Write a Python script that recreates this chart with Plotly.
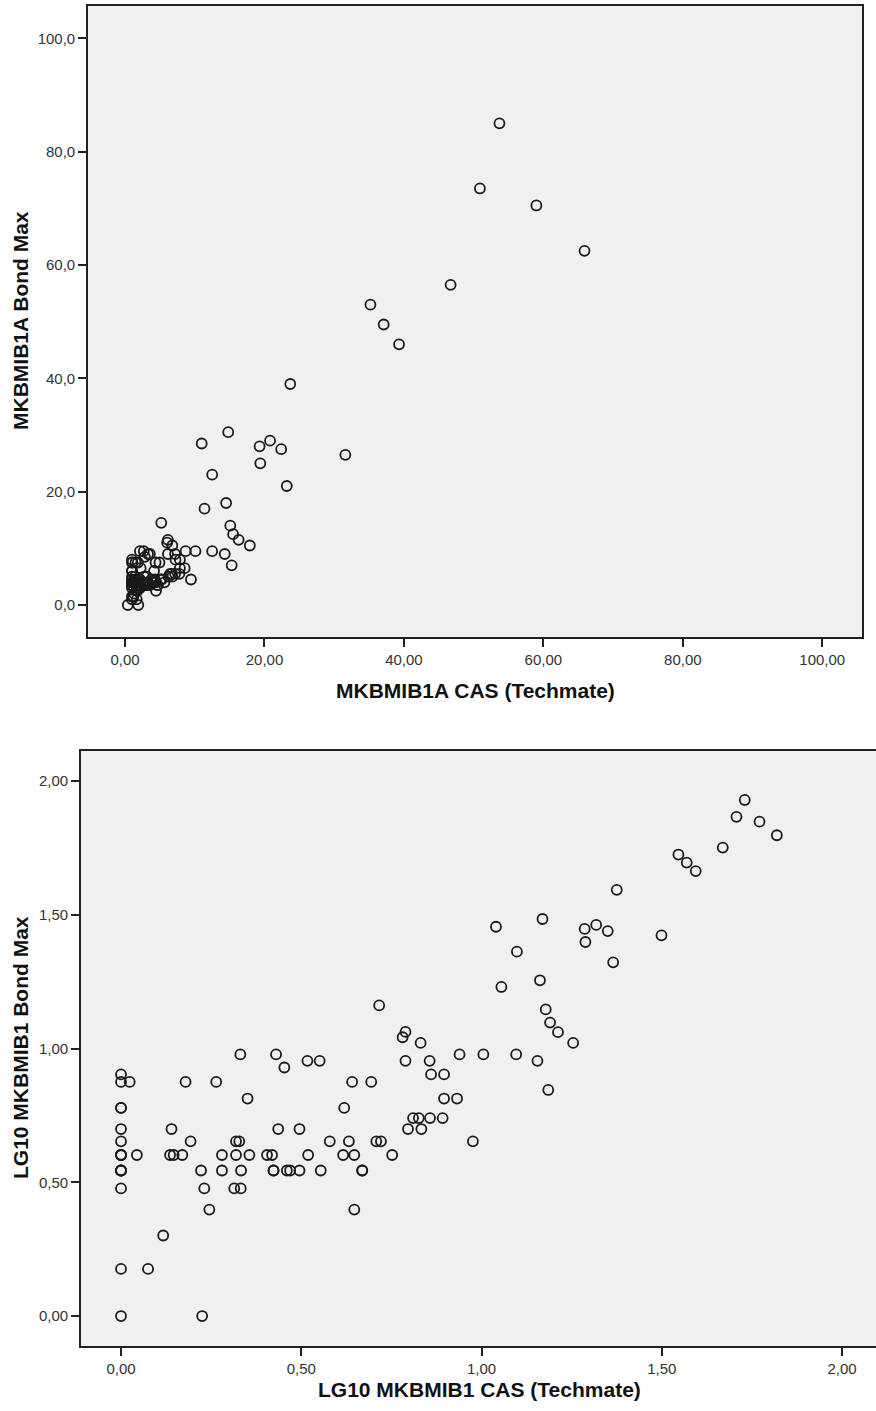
import plotly.graph_objects as go

# ---- Top chart data: MKBMIB1A CAS (Techmate) vs MKBMIB1A Bond Max ----
cas_raw = [1.0, 1.0, 1.06, 1.0, 1.0, 1.0, 1.0, 1.0, 1.0, 1.0, 1.1, 1.0, 1.0, 1.0, 1.0, 1.0, 1.0,
           1.19, 1.31, 1.68, 1.38, 1.37, 1.39, 1.48, 1.51, 1.56, 1.67, 1.70, 1.76, 1.84, 1.91, 1.91,
           2.06, 2.15, 2.08, 2.13, 2.08, 2.15, 2.14, 2.24, 2.27, 2.54, 2.62, 2.65, 2.65, 2.69, 2.73,
           2.84, 2.88, 2.94, 3.13, 3.13, 3.29, 3.30, 3.56, 3.58, 3.79, 4.13, 4.16, 4.29, 4.38, 4.44,
           4.44, 4.67, 4.67, 4.94, 5.11, 5.26, 5.20, 5.65, 6.04, 6.15, 6.15, 6.25, 6.46, 6.70, 6.78,
           6.81, 7.18, 7.19, 7.24, 7.80, 7.87, 7.87, 8.55, 8.69, 9.46, 10.1, 11.0, 11.4, 12.5, 12.5,
           14.3, 14.5, 14.8, 15.1, 15.3, 15.5, 16.3, 17.9, 19.3, 19.4, 20.8, 22.4, 23.2, 23.7, 31.6,
           35.2, 37.1, 39.3, 46.7, 50.9, 53.7, 59.0, 65.9, 0.4, 1.9]
bond_raw = [8.0, 7.5, 7.5, 6.0, 6.0, 5.0, 4.5, 4.0, 4.0, 4.0, 4.0, 3.5, 3.5, 3.5, 3.0, 1.5, 1.0,
            1.5, 2.0, 1.0, 5.0, 4.0, 4.0, 4.0, 7.5, 4.5, 3.5, 3.0, 2.5, 7.5, 4.0, 3.5,
            3.0, 3.0, 4.5, 4.5, 4.0, 3.5, 9.5, 6.5, 4.0, 4.0, 4.0, 3.5, 3.5, 9.5, 5.0,
            8.5, 3.5, 3.5, 5.0, 3.5, 9.0, 4.0, 9.0, 3.5, 4.5, 4.0, 6.0, 4.5, 7.5, 4.0,
            2.5, 3.5, 3.5, 7.5, 4.5, 4.5, 14.5, 4.0, 11.0, 11.5, 9.0, 5.0, 5.5, 5.5, 10.5,
            5.0, 9.0, 5.5, 8.0, 5.5, 8.0, 6.5, 6.5, 9.5, 4.5, 9.5, 28.5, 17.0, 9.5, 23.0,
            9.0, 18.0, 30.5, 14.0, 7.0, 12.5, 11.5, 10.5, 28.0, 25.0, 29.0, 27.5, 21.0, 39.0, 26.5,
            53.0, 49.5, 46.0, 56.5, 73.5, 85.0, 70.5, 62.5, 0.0, 0.0]

# ---- Bottom chart data: LG10 MKBMIB1 CAS (Techmate) vs LG10 MKBMIB1 Bond Max ----
cas_log = [0.000, 0.000, 0.024, 0.000, 0.000, 0.000, 0.000, 0.000, 0.000, 0.000, 0.044, 0.000,
           0.000, 0.000, 0.000, 0.000, 0.000, 0.075, 0.117, 0.225, 0.140, 0.136, 0.146, 0.170,
           0.179, 0.193, 0.222, 0.231, 0.245, 0.264, 0.280, 0.280, 0.314, 0.332, 0.319, 0.328,
           0.319, 0.333, 0.331, 0.351, 0.356, 0.405, 0.419, 0.423, 0.423, 0.430, 0.436, 0.453,
           0.460, 0.469, 0.495, 0.495, 0.517, 0.519, 0.551, 0.554, 0.579, 0.616, 0.619, 0.632,
           0.641, 0.647, 0.647, 0.669, 0.669, 0.694, 0.708, 0.721, 0.716, 0.752, 0.781, 0.789,
           0.789, 0.796, 0.810, 0.826, 0.831, 0.833, 0.856, 0.857, 0.860, 0.892, 0.896, 0.896,
           0.932, 0.939, 0.976, 1.005, 1.040, 1.055, 1.096, 1.098, 1.155, 1.162, 1.169, 1.178,
           1.185, 1.190, 1.212, 1.254, 1.286, 1.288, 1.318, 1.350, 1.365, 1.375, 1.499, 1.546,
           1.569, 1.594, 1.669, 1.707, 1.730, 1.771, 1.819]
bond_log = [0.903, 0.875, 0.875, 0.778, 0.778, 0.699, 0.653, 0.602, 0.602, 0.602, 0.602, 0.544,
            0.544, 0.544, 0.477, 0.176, 0.000, 0.176, 0.301, 0.000, 0.699, 0.602, 0.602, 0.602,
            0.875, 0.653, 0.544, 0.477, 0.398, 0.875, 0.602, 0.544, 0.477, 0.477, 0.653, 0.653,
            0.602, 0.544, 0.978, 0.813, 0.602, 0.602, 0.602, 0.544, 0.544, 0.978, 0.699, 0.929,
            0.544, 0.544, 0.699, 0.544, 0.954, 0.602, 0.954, 0.544, 0.653, 0.602, 0.778, 0.653,
            0.875, 0.602, 0.398, 0.544, 0.544, 0.875, 0.653, 0.653, 1.161, 0.602, 1.042, 1.062,
            0.954, 0.699, 0.740, 0.740, 1.021, 0.699, 0.954, 0.740, 0.903, 0.740, 0.903, 0.813,
            0.813, 0.978, 0.653, 0.978, 1.455, 1.230, 0.978, 1.362, 0.954, 1.255, 1.484, 1.146,
            0.845, 1.097, 1.061, 1.021, 1.447, 1.398, 1.462, 1.439, 1.322, 1.593, 1.423, 1.725,
            1.695, 1.663, 1.751, 1.866, 1.929, 1.848, 1.797]

top_ticks = [0, 20, 40, 60, 80, 100]
bottom_ticks = [0, 0.5, 1.0, 1.5, 2.0]

W, H = 876, 1411
FONT = "Liberation Sans, Arial, sans-serif"
AX = "#222222"
marker = dict(symbol="circle-open", size=10, color="#1a1a1a", line=dict(width=1.8, color="#1a1a1a"))

fig = go.Figure()
fig.add_trace(go.Scatter(x=cas_raw, y=bond_raw, mode="markers", marker=marker,
                         xaxis="x", yaxis="y", showlegend=False))
fig.add_trace(go.Scatter(x=cas_log, y=bond_log, mode="markers", marker=marker,
                         xaxis="x2", yaxis="y2", showlegend=False))

def px_x(p):
    return min(1.0, max(0.0, p / W))

def px_y(p):
    return min(1.0, max(0.0, 1 - p / H))

common = dict(showgrid=False, zeroline=False, showline=True, linecolor=AX, linewidth=1.6,
              ticks="outside", ticklen=8, tickwidth=1.5, tickcolor=AX,
              tickfont=dict(family=FONT, size=15, color="#333333"))

fig.update_layout(
    width=W, height=H,
    margin=dict(l=0, r=0, t=0, b=0),
    paper_bgcolor="white", plot_bgcolor="#f0f0f0",
    separators=",.",
    font=dict(family=FONT),
    xaxis=dict(domain=[px_x(88), px_x(862)], anchor="y", range=[-5.31, 105.7],
               tickvals=top_ticks, tickformat=".2f", mirror=True, **common),
    yaxis=dict(domain=[px_y(637), px_y(6)], anchor="x", range=[-5.65, 105.7],
               tickvals=top_ticks, tickformat=".1f", mirror=True, **common),
    xaxis2=dict(domain=[px_x(81), 1.0], anchor="y2", range=[-0.111, 2.094],
                tickvals=bottom_ticks, tickformat=".2f", mirror=True, **common),
    yaxis2=dict(domain=[px_y(1346), px_y(751)], anchor="x2", range=[-0.112, 2.112],
                tickvals=bottom_ticks, tickformat=".2f", mirror=False, **common),
)

title_font = dict(family=FONT, size=21, color="#111111")
fig.add_annotation(text="<b>MKBMIB1A CAS (Techmate)</b>", xref="paper", yref="paper",
                   x=px_x(475), y=px_y(691), xanchor="center", yanchor="middle",
                   showarrow=False, font=title_font)
fig.add_annotation(text="<b>MKBMIB1A Bond Max</b>", xref="paper", yref="paper",
                   x=px_x(20), y=px_y(321), xanchor="center", yanchor="middle",
                   textangle=-90, showarrow=False, font=title_font)
fig.add_annotation(text="<b>LG10 MKBMIB1 CAS (Techmate)</b>", xref="paper", yref="paper",
                   x=px_x(479), y=px_y(1389), xanchor="center", yanchor="middle",
                   showarrow=False, font=title_font)
fig.add_annotation(text="<b>LG10 MKBMIB1 Bond Max</b>", xref="paper", yref="paper",
                   x=px_x(20), y=px_y(1048), xanchor="center", yanchor="middle",
                   textangle=-90, showarrow=False, font=title_font)

# remove the page's default body margin so the figure sits at the window origin
fig.write_html("out.html", config={"displayModeBar": False},
               post_script="document.body.style.margin='0px';document.body.style.overflow='hidden';")
